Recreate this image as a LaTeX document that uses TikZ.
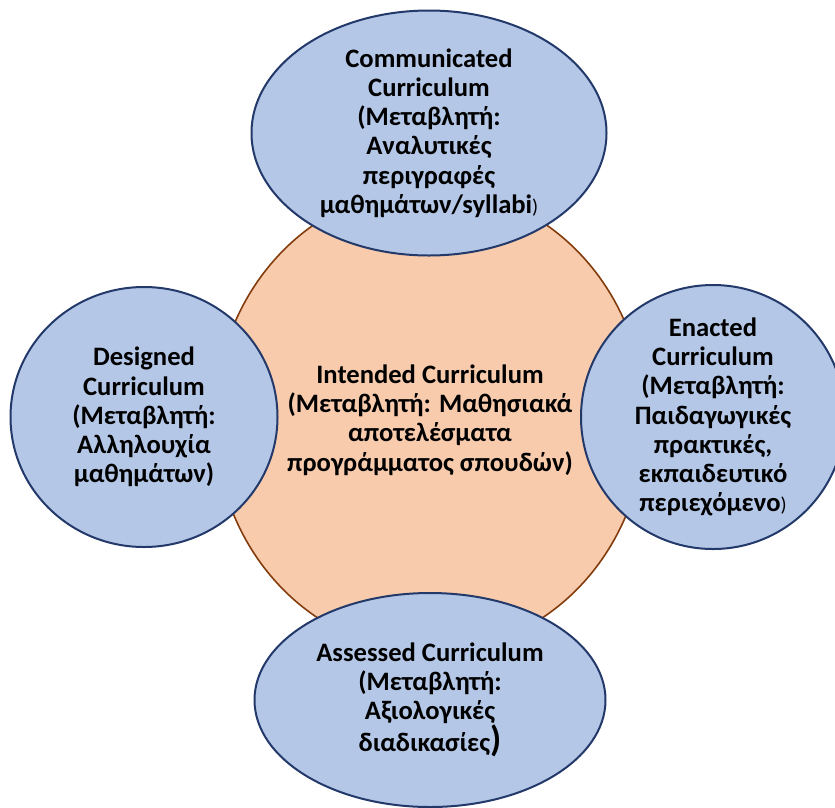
\documentclass[tikz,border=0pt]{standalone}
\usepackage{fontspec}
\setmainfont{Carlito}
\usetikzlibrary{shapes.geometric}

\definecolor{currblue}{HTML}{B4C7E7}
\definecolor{curredge}{HTML}{22396A}
\definecolor{coreorange}{HTML}{F8CBAD}
\definecolor{coreedge}{HTML}{843C0C}

\tikzset{
  curr/.style={ellipse, draw=curredge, fill=currblue, line width=2pt,
    inner sep=-40pt, align=center,
    font=\bfseries\fontsize{26.6}{29.2}\selectfont},
  core/.style={curr, draw=coreedge, fill=coreorange, line width=1.6pt}
}

\begin{document}
\begin{tikzpicture}[x=1pt,y=-1pt]
  \useasboundingbox (0,0) rectangle (835,807);
  \clip (0,0) rectangle (835,807);

  \node (intended) [core, minimum width=430pt, minimum height=464pt] at (430,420)
    {Intended Curriculum\\(Μεταβλητή: Μαθησιακά\\αποτελέσματα\\προγράμματος σπουδών)};

  \node (communicated) [curr, minimum width=355pt, minimum height=245pt] at (429,133)
    {Communicated\\Curriculum\\(Μεταβλητή:\\Αναλυτικές\\περιγραφές\\μαθημάτων/syllabi{\mdseries\fontsize{20}{20}\selectfont)}};
  \node (designed) [curr, minimum width=267pt, minimum height=260pt] at (144,417)
    {Designed\\Curriculum\\(Μεταβλητή:\\Αλληλουχία\\μαθημάτων)};
  \node (enacted) [curr, minimum width=264pt, minimum height=264pt] at (713,417)
    {Enacted\\Curriculum\\(Μεταβλητή:\\Παιδαγωγικές\\πρακτικές,\\εκπαιδευτικό\\περιεχόμενο{\mdseries\fontsize{20}{20}\selectfont)}};
  \node (assessed) [curr, minimum width=351pt, minimum height=214pt] at (430,700)
    {Assessed Curriculum\\(Μεταβλητή:\\Αξιολογικές\\διαδικασίες{\fontsize{36}{36}\selectfont)}};
\end{tikzpicture}
\end{document}
